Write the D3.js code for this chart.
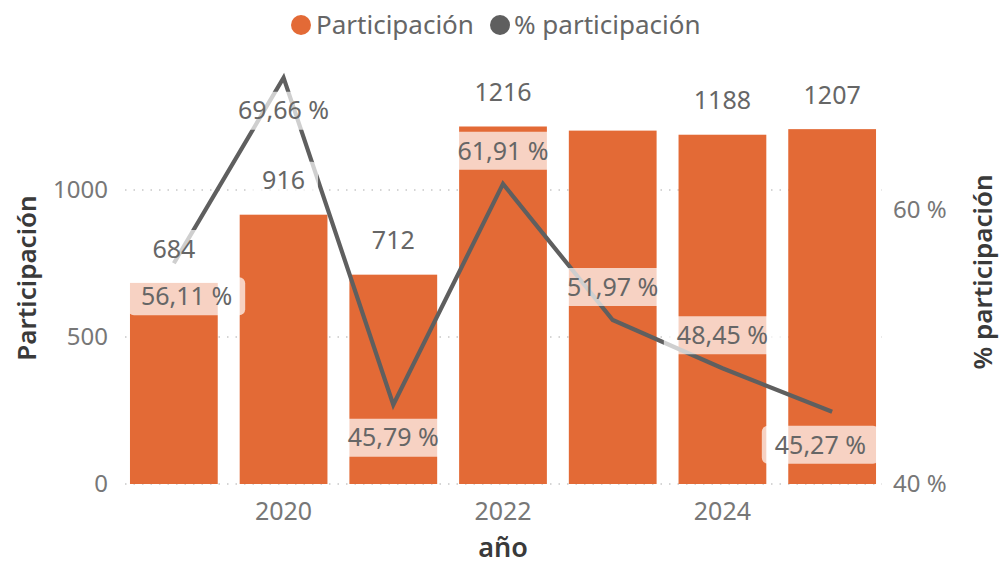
<!DOCTYPE html>
<html lang="es">
<head>
  <meta charset="UTF-8">
  <title>Participación por año</title>
  <style>
    body {
      margin: 0;
      padding: 0;
      background-color: #ffffff;
      font-family: "Segoe UI", "Noto Sans", "Open Sans", sans-serif;
    }
  </style>
  <script src="https://d3js.org/d3.v7.min.js"></script>
</head>
<body>
  <div id="chart"></div>
  <script>
    const years = [2019, 2020, 2021, 2022, 2023, 2024, 2025];
    const participacion = [684, 916, 712, 1216, 1202, 1188, 1207];
    const pctParticipacion = [56.11, 69.66, 45.79, 61.91, 51.97, 48.45, 45.27];
    // Power BI hides the 2023 bar label
    const barLabelShown = [true, true, true, true, false, true, true];
    const xTickLabels = [2020, 2022, 2024];
    const leftTicks = [0, 500, 1000];
    const rightTicks = [40, 60];

    // +1 = label under the point, -1 = above
    const pctLabelSide = [1, 1, 1, -1, -1, -1, 1];

    const width = 999;
    const height = 565;
    const barColor = "#e36a36";
    const lineColor = "#5f5f5f";
    const fmtPct = v => d3.format(".2f")(v).replace(".", ",") + " %";

    const data = years.map((y, i) => ({
      year: y,
      value: participacion[i],
      pct: pctParticipacion[i],
      showBar: barLabelShown[i],
      side: pctLabelSide[i]
    }));

    const svg = d3.select("#chart")
      .append("svg")
      .attr("width", width)
      .attr("height", height);

    const x = d3.scaleBand()
      .domain(years)
      .range([119, 887])
      .paddingInner(0.2)
      .paddingOuter(0.1);

    const yL = d3.scaleLinear().domain([0, 1400]).range([484, 72.4]);
    const yR = d3.scaleLinear().domain([40, 72]).range([484, 45.6]);

    // gridlines
    svg.append("g")
      .selectAll("line")
      .data(leftTicks)
      .enter()
      .append("line")
      .attr("x1", 125)
      .attr("x2", 882)
      .attr("y1", d => yL(d))
      .attr("y2", d => yL(d))
      .attr("stroke", "#c8c8c8")
      .attr("stroke-width", 1.5)
      .attr("stroke-dasharray", "1.5,7");

    // bars
    svg.append("g")
      .selectAll("rect")
      .data(data)
      .enter()
      .append("rect")
      .attr("x", d => x(d.year))
      .attr("y", d => yL(d.value))
      .attr("width", x.bandwidth())
      .attr("height", d => yL(0) - yL(d.value))
      .attr("fill", barColor);

    // line
    const cx = d => x(d.year) + x.bandwidth() / 2;
    const line = d3.line()
      .x(cx)
      .y(d => yR(d.pct));

    svg.append("path")
      .datum(data)
      .attr("d", line)
      .attr("fill", "none")
      .attr("stroke", lineColor)
      .attr("stroke-width", 4.2);

    // left axis ticks
    svg.append("g")
      .selectAll("text")
      .data(leftTicks)
      .enter()
      .append("text")
      .attr("x", 108)
      .attr("y", d => yL(d))
      .attr("dy", "0.35em")
      .attr("text-anchor", "end")
      .attr("fill", "#777")
      .style("font-size", "24px")
      .text(d => d);

    // right axis ticks
    svg.append("g")
      .selectAll("text")
      .data(rightTicks)
      .enter()
      .append("text")
      .attr("x", 893)
      .attr("y", d => yR(d))
      .attr("dy", "0.35em")
      .attr("fill", "#777")
      .style("font-size", "24px")
      .text(d => d + " %");

    // x ticks
    svg.append("g")
      .selectAll("text")
      .data(xTickLabels)
      .enter()
      .append("text")
      .attr("x", d => x(d) + x.bandwidth() / 2)
      .attr("y", 511)
      .attr("dy", "0.35em")
      .attr("text-anchor", "middle")
      .attr("fill", "#777")
      .style("font-size", "25px")
      .text(d => d);

    // axis titles
    svg.append("text")
      .attr("transform", "translate(36,278) rotate(-90)")
      .attr("text-anchor", "middle")
      .attr("fill", "#3a3a3a")
      .style("font-size", "26px")
      .style("font-weight", "600")
      .text("Participación");

    svg.append("text")
      .attr("transform", "translate(992,272) rotate(-90)")
      .attr("text-anchor", "middle")
      .attr("fill", "#3a3a3a")
      .style("font-size", "26px")
      .style("font-weight", "600")
      .text("% participación");

    svg.append("text")
      .attr("x", 503)
      .attr("y", 557)
      .attr("text-anchor", "middle")
      .attr("fill", "#3a3a3a")
      .style("font-size", "27px")
      .style("font-weight", "600")
      .text("año");

    // data labels with translucent background, kept inside the plot area
    function addLabel(g, cxv, cyv, txt) {
      const t = g.append("text")
        .attr("x", cxv)
        .attr("y", cyv)
        .attr("dy", "0.35em")
        .attr("text-anchor", "middle")
        .attr("fill", "#666")
        .style("font-size", "25px")
        .text(txt);
      const w = t.node().getComputedTextLength() + 26;
      let left = cxv - w / 2;
      left = Math.max(128, Math.min(left, 879 - w));
      t.attr("x", left + w / 2);
      g.insert("rect", "text")
        .attr("x", left)
        .attr("y", cyv - 19)
        .attr("width", w)
        .attr("height", 38)
        .attr("rx", 6)
        .attr("fill", "#fff")
        .attr("fill-opacity", 0.7);
    }

    data.forEach(d => {
      if (d.showBar) {
        addLabel(svg.append("g"), cx(d), yL(d.value) - 34, d.value);
      }
    });
    data.forEach(d => {
      addLabel(svg.append("g"), cx(d), yR(d.pct) + d.side * 33, fmtPct(d.pct));
    });

    // legend
    const legend = svg.append("g");
    legend.append("circle").attr("cx", 301).attr("cy", 25).attr("r", 10).attr("fill", barColor);
    legend.append("text")
      .attr("x", 316).attr("y", 25).attr("dy", "0.35em")
      .attr("fill", "#666").style("font-size", "26px")
      .text("Participación");
    legend.append("circle").attr("cx", 500).attr("cy", 25).attr("r", 10).attr("fill", lineColor);
    legend.append("text")
      .attr("x", 514).attr("y", 25).attr("dy", "0.35em")
      .attr("fill", "#666").style("font-size", "26px")
      .text("% participación");
  </script>
</body>
</html>
